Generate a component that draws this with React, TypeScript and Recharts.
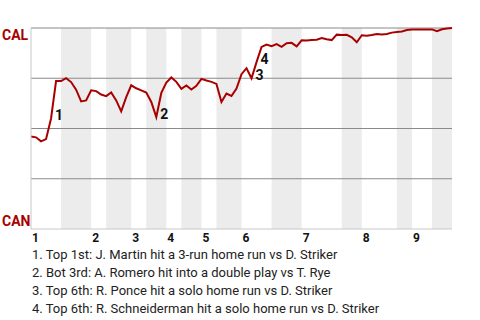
import React from "react";
import {
  LineChart,
  Line,
  XAxis,
  YAxis,
  ReferenceArea,
  ReferenceLine,
} from "recharts";

// CAL win probability after each plate appearance
const winProb = [
  0.46, 0.456, 0.436, 0.447, 0.55, 0.736, 0.736, 0.75, 0.731, 0.693,
  0.635, 0.64, 0.69, 0.686, 0.669, 0.661, 0.679, 0.64, 0.585, 0.656,
  0.715, 0.7, 0.69, 0.679, 0.632, 0.557, 0.677, 0.729, 0.754, 0.732,
  0.697, 0.714, 0.694, 0.712, 0.747, 0.739, 0.732, 0.722, 0.632, 0.674,
  0.662, 0.699, 0.77, 0.8, 0.75, 0.83, 0.906, 0.918, 0.91, 0.92,
  0.906, 0.924, 0.926, 0.909, 0.939, 0.938, 0.94, 0.942, 0.95, 0.944,
  0.94, 0.967, 0.965, 0.966, 0.954, 0.929, 0.964, 0.961, 0.965, 0.97,
  0.968, 0.97, 0.977, 0.98, 0.983, 0.99, 0.993, 0.993, 0.993, 0.993,
  0.993, 0.984, 0.994, 0.997, 1.0,
];

const innings = ["1", "2", "3", "4", "5", "6", "7", "8", "9"];
const inningStarts = [0, 12, 20, 27, 34, 42, 54, 66, 76];
const bottomStarts = [6, 15, 23, 30, 37, 48, 62, 73, 80];
const bottomEnds = [12, 20, 27, 34, 42, 54, 66, 76, 84];

const teamTicks = [0, 1];
const teamNames = ["CAN", "CAL"];
const gridValues = [0.25, 0.5, 0.75, 1];

const eventIndex = [4, 25, 44, 45];
const eventText = [
  "Top 1st: J. Martin hit a 3-run home run vs D. Striker",
  "Bot 3rd: A. Romero hit into a double play vs T. Rye",
  "Top 6th: R. Ponce hit a solo home run vs D. Striker",
  "Top 6th: R. Schneiderman hit a solo home run vs D. Striker",
];

const data = winProb.map((p, i) => ({ i, p }));

const RED = "#a80000";
const FONT = "Roboto, 'Noto Sans', sans-serif";

const TeamTick = (props: any) => {
  const { y, payload } = props;
  const idx = teamTicks.indexOf(payload.value);
  return (
    <text
      x={2}
      y={y}
      dy={payload.value === 1 ? 12 : -3}
      textAnchor="start"
      fill={RED}
      fontFamily={FONT}
      fontWeight="bold"
      fontSize={14}
    >
      {teamNames[idx]}
    </text>
  );
};

const InningTick = (props: any) => {
  const { x, y, payload } = props;
  const idx = inningStarts.indexOf(payload.value);
  return (
    <text
      x={x + 1}
      y={y}
      dy={5}
      textAnchor="start"
      fill="#111"
      fontFamily={FONT}
      fontWeight="bold"
      fontSize={12}
    >
      {innings[idx]}
    </text>
  );
};

const EventLabel = (props: any) => {
  const { x, y, index } = props;
  const n = eventIndex.indexOf(index);
  if (n < 0) return null;
  return (
    <text
      x={x + 4}
      y={y + 2}
      fill="#111"
      fontFamily={FONT}
      fontWeight="bold"
      fontSize={14}
    >
      {n + 1}
    </text>
  );
};

export default function App() {
  return (
    <div style={{ position: "absolute", left: 0, top: 0, width: 480, height: 320 }}>
      <LineChart
        width={480}
        height={245}
        data={data}
        margin={{ top: 28, right: 28, bottom: 0, left: 0 }}
      >
        <XAxis
          dataKey="i"
          type="number"
          domain={[0, 84]}
          ticks={inningStarts}
          tick={<InningTick />}
          tickLine={false}
          axisLine={{ stroke: "#c8c8c8" }}
          height={16}
          interval={0}
        />
        <YAxis
          type="number"
          domain={[0, 1]}
          ticks={teamTicks}
          tick={<TeamTick />}
          tickLine={false}
          axisLine={{ stroke: "#c8c8c8" }}
          width={31}
          interval={0}
        />
        {bottomStarts.map((s, k) => (
          <ReferenceArea
            key={k}
            x1={s}
            x2={bottomEnds[k]}
            y1={0}
            y2={1}
            fill="#ececec"
            fillOpacity={1}
            stroke="none"
          />
        ))}
        {gridValues.map((v) => (
          <ReferenceLine key={v} y={v} stroke="#8a8a8a" />
        ))}
        <Line
          type="linear"
          dataKey="p"
          stroke={RED}
          strokeWidth={2}
          dot={false}
          label={<EventLabel />}
          isAnimationActive={false}
        />
      </LineChart>
      <div
        style={{
          fontFamily: FONT,
          fontSize: 13,
          lineHeight: "18px",
          color: "#222",
          paddingLeft: 32,
          marginTop: 1,
        }}
      >
        {eventText.map((t, k) => (
          <div key={k}>
            {k + 1}. {t}
          </div>
        ))}
      </div>
    </div>
  );
}
